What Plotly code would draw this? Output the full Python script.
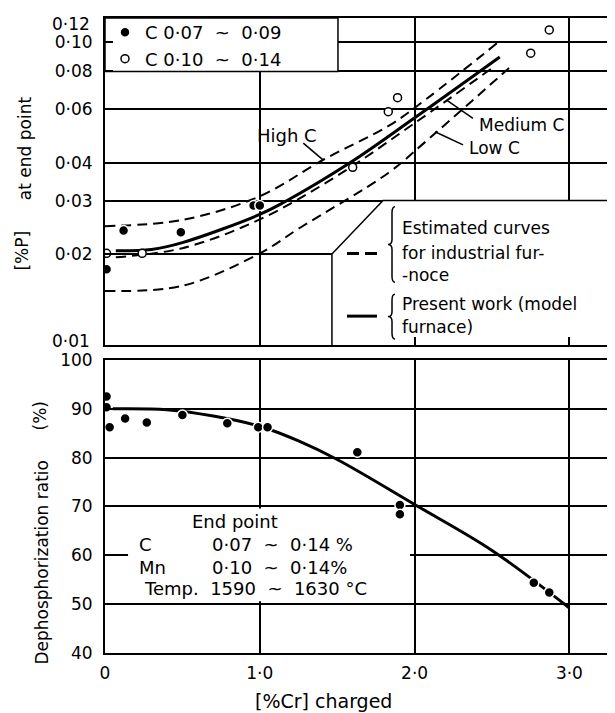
import numpy as np
import plotly.graph_objects as go

# ---------------- data ----------------
# Upper panel: [%P] at end point vs [%Cr] charged
cr_c_low = [0.01, 0.12, 0.49, 0.96, 1.00]               # filled dots: C 0.07~0.09
p_c_low = [0.0178, 0.0239, 0.0236, 0.0289, 0.0289]
cr_c_high = [0.01, 0.24, 1.60, 1.83, 1.89, 2.75, 2.87]  # open dots: C 0.10~0.14
p_c_high = [0.0201, 0.0201, 0.0386, 0.0589, 0.0655, 0.0919, 0.1096]

high_c_x = [0.0, 0.5, 1.0, 1.41, 1.84, 2.08, 2.54]
high_c_y = [0.0247, 0.0259, 0.0310, 0.0409, 0.0532, 0.0651, 0.0998]
medium_c_x = [0.07, 0.5, 1.0, 1.5, 2.0, 2.5]
medium_c_y = [0.0195, 0.0209, 0.0260, 0.0362, 0.0540, 0.0820]
low_c_x = [0.0, 0.5, 1.0, 1.26, 1.83, 2.06, 2.61]
low_c_y = [0.0151, 0.0157, 0.0201, 0.0244, 0.0370, 0.0464, 0.0821]
present_x = [0.07, 0.3, 0.5, 1.0, 1.15, 1.58, 2.01, 2.40, 2.55]
present_y = [0.0205, 0.0207, 0.0218, 0.0270, 0.0295, 0.0399, 0.0567, 0.0786, 0.0892]

# Lower panel: dephosphorization ratio (%)
cr_dephos = [0.01, 0.01, 0.03, 0.13, 0.27, 0.50, 0.79, 0.99, 1.05, 1.63, 1.905, 1.905, 2.77, 2.87]
dephos = [92.5, 90.3, 86.2, 88.0, 87.2, 88.7, 87.0, 86.2, 86.2, 81.1, 70.3, 68.4, 54.4, 52.4]
dephos_curve_x = [0.05, 0.4, 0.7, 1.0, 1.25, 1.5, 2.0, 2.5, 3.0]
dephos_curve_y = [90.0, 89.8, 88.5, 86.4, 83.4, 79.6, 70.4, 61.0, 49.2]

p_ticks = [0.01, 0.02, 0.03, 0.04, 0.06, 0.08, 0.10, 0.12]
p_ticktext = ["", "0·02", "0·03", "0·04", "0·06", "0·08", "0·10", ""]
d_ticks = [40, 50, 60, 70, 80, 90, 100]
cr_ticks = [0, 1, 2, 3]
cr_ticktext = ["0", "1·0", "2·0", "3·0"]

# ---------------- layout geometry ----------------
OFF = 8                      # page body margin of the html page
W, H = 615 - OFF, 713 - OFF
L, R, T, B = 105 - OFF, 0, 14 - OFF, 60
PW, PH = W - L - R, H - T - B
XMAX = PW / 154.8


def px(x):
    """reference-image pixel x -> paper"""
    return (x - OFF - L) / PW


def py(y):
    """reference-image pixel y -> paper"""
    return (H - B - (y - OFF)) / PH


def lg(v):
    return float(np.log10(v))


FONT = "DejaVu Sans"
BLACK = "black"

fig = go.Figure()

dash = "10px,6px"
for xs, ys in [(high_c_x, high_c_y), (medium_c_x, medium_c_y), (low_c_x, low_c_y)]:
    fig.add_trace(go.Scatter(x=xs, y=ys, mode="lines", xaxis="x", yaxis="y",
                             line=dict(color=BLACK, width=2, dash=dash, shape="spline"),
                             showlegend=False, hoverinfo="skip"))
fig.add_trace(go.Scatter(x=present_x, y=present_y, mode="lines", xaxis="x", yaxis="y",
                         line=dict(color=BLACK, width=3, shape="spline"),
                         showlegend=False, hoverinfo="skip"))
fig.add_trace(go.Scatter(x=cr_c_low, y=p_c_low, mode="markers", xaxis="x", yaxis="y",
                         name="C 0·07  ~  0·09",
                         marker=dict(color=BLACK, size=10, line=dict(color="white", width=1.5))))
fig.add_trace(go.Scatter(x=cr_c_high, y=p_c_high, mode="markers", xaxis="x", yaxis="y",
                         name="C 0·10  ~  0·14",
                         marker=dict(color="white", size=8, line=dict(color=BLACK, width=1.5))))

fig.add_trace(go.Scatter(x=dephos_curve_x, y=dephos_curve_y, mode="lines", xaxis="x2", yaxis="y2",
                         line=dict(color=BLACK, width=3, shape="spline", smoothing=1.0),
                         showlegend=False, hoverinfo="skip"))
fig.add_trace(go.Scatter(x=cr_dephos, y=dephos, mode="markers", xaxis="x2", yaxis="y2",
                         marker=dict(color=BLACK, size=10, line=dict(color="white", width=1.5)),
                         showlegend=False))

axis_common = dict(showline=True, linecolor=BLACK, linewidth=2, showgrid=True,
                   gridcolor=BLACK, gridwidth=1.5, zeroline=False, ticks="inside",
                   ticklen=8, tickcolor=BLACK, tickwidth=1.5,
                   tickfont=dict(family=FONT, size=17, color=BLACK))

top_dom = [py(343.3), 1.0]
bot_dom = [0.0, py(358)]

fig.update_layout(
    width=W, height=H, autosize=False,
    margin=dict(l=L, r=R, t=T, b=B, pad=0),
    paper_bgcolor="white", plot_bgcolor="white",
    font=dict(family=FONT, size=16, color=BLACK),
    xaxis=dict(domain=[0, 1], range=[0, XMAX], anchor="y", tickvals=cr_ticks,
               showticklabels=False, mirror=True, **axis_common),
    yaxis=dict(domain=top_dom, type="log", range=[lg(0.01), lg(0.12)], anchor="x",
               tickvals=p_ticks, ticktext=p_ticktext, ticklabelstandoff=7, **axis_common),
    xaxis2=dict(domain=[0, 1], range=[0, XMAX], anchor="y2", tickvals=cr_ticks,
                ticktext=cr_ticktext, mirror=True, ticklabelstandoff=4, **axis_common),
    yaxis2=dict(domain=bot_dom, range=[40, 100], anchor="x2", tickvals=d_ticks,
                ticklabelstandoff=7, **axis_common),
    legend=dict(x=0, y=1 + 4 / PH, xanchor="left", yanchor="top", bgcolor="rgba(0,0,0,0)",
                font=dict(family=FONT, size=18, color=BLACK), itemsizing="trace"),
    showlegend=True,
)

shapes = []
# top-left legend box
shapes.append(dict(type="rect", xref="x", yref="y", x0=0, x1=1.505, y0=0.08, y1=0.12,
                   fillcolor="white", line=dict(color=BLACK, width=1.5), layer="between"))
# lower-right legend box of top panel
shapes.append(dict(type="path", xref="x", yref="y",
                   path=f"M 1.466,0.01 L 1.466,0.02 L 1.796,0.03 L {XMAX},0.03 L {XMAX},0.01 Z",
                   fillcolor="white", line=dict(width=0), layer="between"))
shapes.append(dict(type="path", xref="x", yref="y",
                   path=f"M 1.466,0.01 L 1.466,0.02 L 1.796,0.03 L {XMAX},0.03",
                   fillcolor="rgba(0,0,0,0)", line=dict(color=BLACK, width=1.5), layer="between"))
# white box behind end point conditions
shapes.append(dict(type="rect", xref="x2", yref="y2", x0=0.149, x1=1.97, y0=50.6, y1=69.6,
                   fillcolor="white", line=dict(width=0), layer="between"))
# leader lines for curve labels
for (x0, y0, x1, y1) in [(1.281, 0.0464, 1.410, 0.0408),
                         (2.207, 0.0643, 2.377, 0.0560),
                         (2.132, 0.0506, 2.313, 0.0458)]:
    shapes.append(dict(type="line", xref="x", yref="y", x0=x0, y0=y0, x1=x1, y1=y1,
                       line=dict(color=BLACK, width=1.5), layer="above"))
# legend line samples
shapes.append(dict(type="line", xref="paper", yref="paper", x0=px(347), x1=px(377),
                   y0=py(251), y1=py(251), line=dict(color=BLACK, width=3, dash="12px,6px")))
shapes.append(dict(type="line", xref="paper", yref="paper", x0=px(347), x1=px(377),
                   y0=py(314), y1=py(314), line=dict(color=BLACK, width=3)))


# braces
def brace(xr, ytop, ybot):
    ym = (ytop + ybot) / 2
    xb = xr - 3
    xt = xr - 7
    pts = [
        f"M {px(xr)},{py(ytop)}",
        f"Q {px(xb)},{py(ytop)} {px(xb)},{py(ytop + 6)}",
        f"L {px(xb)},{py(ym - 5)}",
        f"Q {px(xb)},{py(ym)} {px(xt)},{py(ym)}",
        f"Q {px(xb)},{py(ym)} {px(xb)},{py(ym + 5)}",
        f"L {px(xb)},{py(ybot - 6)}",
        f"Q {px(xb)},{py(ybot)} {px(xr)},{py(ybot)}",
    ]
    return dict(type="path", xref="paper", yref="paper", path=" ".join(pts),
                line=dict(color=BLACK, width=1.5), fillcolor="rgba(0,0,0,0)")


shapes.append(brace(395, 204, 280))
shapes.append(brace(395, 292, 337))
fig.update_layout(shapes=shapes)

ann = []


def add_text(text, x, y, xref="paper", yref="paper", xanchor="left", size=17, angle=0):
    ann.append(dict(text=text, x=x, y=y, xref=xref, yref=yref, xanchor=xanchor,
                    yanchor="middle", showarrow=False, textangle=angle,
                    font=dict(family=FONT, size=size, color=BLACK)))


# end tick labels of the log axis, nudged inward as in the original
add_text("0·12", px(92), py(20), xanchor="right", size=17)
add_text("0·01", px(92), py(339), xanchor="right", size=17)

# curve labels (top panel, log axis -> log10 positions)
add_text("High C", 1.173, lg(0.0492), "x", "y", "center", 18)
add_text("Medium C", 2.402, lg(0.0532), "x", "y", "left")
add_text("Low C", 2.337, lg(0.0447), "x", "y", "left")

# legend text in lower-right box
for txt, yy in [("Estimated curves", 225), ("for industrial fur-", 250), ("-noce", 273),
                ("Present work (model", 301.7), ("furnace)", 325)]:
    add_text(txt, px(400), py(yy), size=17)

# end point conditions (lower panel)
add_text("End point", 0.84, 67.0, "x2", "y2", "center", 18)
add_text("C", 0.205, 62.3, "x2", "y2", "left", 18)
add_text("0·07  ~  0·14 %", 0.678, 62.3, "x2", "y2", "left", 18)
add_text("Mn", 0.207, 57.5, "x2", "y2", "left", 18)
add_text("0·10  ~  0·14%", 0.678, 57.5, "x2", "y2", "left", 18)
add_text("Temp.  1590  ~  1630 °C", 0.237, 53.1, "x2", "y2", "left", 18)

# axis titles
add_text("at end point", px(25), py(145), xanchor="center", size=17, angle=-90)
add_text("[%P]", px(22), py(248), xanchor="center", size=17, angle=-90)
add_text("(%)", px(40), py(415), xanchor="center", size=17, angle=-90)
add_text("Dephosphorization ratio", px(42), py(562), xanchor="center", size=17, angle=-90)
add_text("[%Cr] charged", px(323), py(701), xanchor="center", size=19)

fig.update_layout(annotations=ann)

fig.write_html("out.html")
